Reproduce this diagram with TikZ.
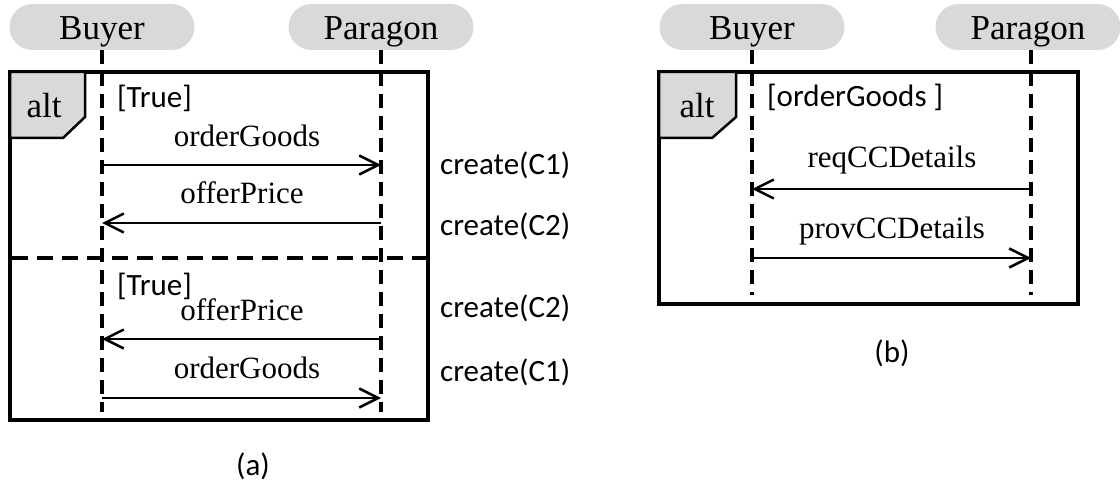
\documentclass[tikz,border=0pt]{standalone}
\usepackage{fontspec}
\setmainfont{Liberation Serif}
\newfontfamily\calfont{Carlito}
\usetikzlibrary{arrows.meta}
\definecolor{pillgray}{RGB}{217,217,217}
\begin{document}
\begin{tikzpicture}[x=1pt,y=-1pt,
  head/.style={fill=pillgray, rounded corners=23pt, minimum width=185pt,
    minimum height=46pt, inner sep=0pt, text height=26pt, text depth=0pt,
    font=\fontsize{35}{40}\selectfont},
  frame/.style={line width=3.5pt},
  tag/.style={draw=black, fill=pillgray, line width=2.5pt, line join=miter},
  tagtext/.style={anchor=base, inner sep=0pt, font=\fontsize{35}{40}\selectfont},
  lifeline/.style={line width=3.5pt, dash pattern=on 14pt off 8pt},
  divider/.style={line width=3.5pt, dash pattern=on 16pt off 9pt},
  msg/.style={line width=2.5pt, -{Straight Barb[length=19pt, width=19pt, line width=2.5pt]}},
  msgtext/.style={anchor=base, inner sep=0pt, font=\fontsize{31}{36}\selectfont},
  guard/.style={anchor=base west, inner sep=0pt, font=\calfont\fontsize{31}{36}\selectfont},
  note/.style={anchor=base west, inner sep=0pt, font=\calfont\fontsize{31}{36}\selectfont},
  caption/.style={inner sep=0pt, font=\calfont\fontsize{31}{36}\selectfont}
]
\useasboundingbox (0,0) rectangle (1120,484);

% ---------------- (a) ----------------
\node[head] (aBuyer) at (102,27) {Buyer};
\node[head] (aParagon) at (381,27) {Paragon};

\draw[frame] (10,72) rectangle (428,420);
\draw[tag] (10,72) -- (85,72) -- (85,117) -- (63,138) -- (10,138) -- cycle;
\node[tagtext] (aAlt) at (44,118) {alt};

\coordinate (aBend) at (102,412);
\coordinate (aPend) at (381,412);
\draw[lifeline] (aBuyer.south) -- (aBend);
\draw[lifeline] (aParagon.south) -- (aPend);

\coordinate (aDivL) at (12,258);
\coordinate (aDivR) at (428,258);
\draw[divider] (aDivL) -- (aDivR);

\node[guard] (aG1) at (117,108) {[True]};
\node[guard] (aG2) at (117,295) {[True]};

\coordinate (aB1) at (102,165); \coordinate (aP1) at (381,165);
\coordinate (aB2) at (102,223); \coordinate (aP2) at (381,223);
\coordinate (aB3) at (102,339); \coordinate (aP3) at (381,339);
\coordinate (aB4) at (102,398); \coordinate (aP4) at (381,398);

\node[msgtext] (aM1) at (247,147) {orderGoods};
\draw[msg] (aB1) -- (aP1);
\node[msgtext] (aM2) at (242,204) {offerPrice};
\draw[msg] (aP2) -- (aB2);
\node[msgtext] (aM3) at (242,320) {offerPrice};
\draw[msg] (aP3) -- (aB3);
\node[msgtext] (aM4) at (247,378) {orderGoods};
\draw[msg] (aB4) -- (aP4);

\node[note] (aN1) at (440,175) {create(C1)};
\node[note] (aN2) at (440,236) {create(C2)};
\node[note] (aN3) at (440,317) {create(C2)};
\node[note] (aN4) at (440,381) {create(C1)};

\node[caption] (aCap) at (253,466) {(a)};

% ---------------- (b) ----------------
\node[head] (bBuyer) at (752,27) {Buyer};
\node[head] (bParagon) at (1028,27) {Paragon};

\draw[frame] (659,72) rectangle (1078,304);
\draw[tag] (659,72) -- (736,72) -- (736,117) -- (712,138) -- (659,138) -- cycle;
\node[tagtext] (bAlt) at (697,118) {alt};

\coordinate (bBend) at (752,295);
\coordinate (bPend) at (1031,295);
\draw[lifeline] (752,50) -- (bBend);
\draw[lifeline] (1031,50) -- (bPend);

\node[guard] (bG1) at (767,107) {[orderGoods ]};

\coordinate (bB1) at (752,189); \coordinate (bP1) at (1031,189);
\coordinate (bB2) at (752,258); \coordinate (bP2) at (1031,258);

\node[msgtext] (bM1) at (892,168) {reqCCDetails};
\draw[msg] (bP1) -- (bB1);
\node[msgtext] (bM2) at (892,238) {provCCDetails};
\draw[msg] (bB2) -- (bP2);

\node[caption] (bCap) at (892,353) {(b)};
\end{tikzpicture}
\end{document}
